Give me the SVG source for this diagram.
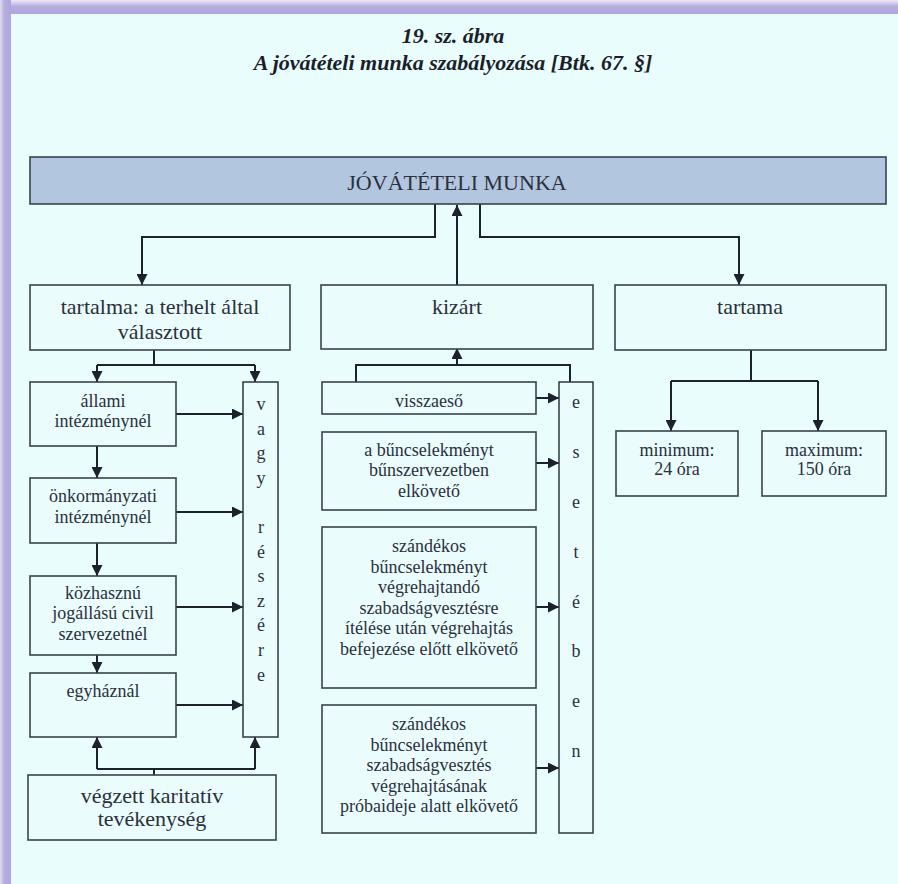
<svg xmlns="http://www.w3.org/2000/svg" width="898" height="884" viewBox="0 0 898 884">
<defs>
<linearGradient id="gTop" x1="0" y1="0" x2="0" y2="1">
<stop offset="0" stop-color="#ece9f6"/>
<stop offset="0.45" stop-color="#b6aee0"/>
<stop offset="1" stop-color="#afa6dc"/>
</linearGradient>
<linearGradient id="gLeft" x1="0" y1="0" x2="1" y2="0">
<stop offset="0" stop-color="#e2def2"/>
<stop offset="0.4" stop-color="#b6aee0"/>
<stop offset="1" stop-color="#afa6dc"/>
</linearGradient>
<marker id="ah" markerUnits="userSpaceOnUse" markerWidth="12" markerHeight="11" refX="11" refY="5.5" orient="auto">
<path d="M0,0 L11,5.5 L0,11 z" fill="#1c222c"/>
</marker>
<style>
.box{fill:#ebfcfc;stroke:#3a424c;stroke-width:1.6}
.hdr{fill:#b3c6e0;stroke:#3a424c;stroke-width:1.6}
.t{font-family:"Liberation Serif","Times New Roman",serif;fill:#2a303c;text-anchor:middle}
.t22{font-size:22px}
.t18{font-size:18px}
.ttl{font-family:"Liberation Serif","Times New Roman",serif;font-size:22px;font-style:italic;font-weight:bold;fill:#1c1f2a;text-anchor:middle}
.c{fill:none;stroke:#1c222c;stroke-width:2}
</style>
</defs>
<rect x="0" y="0" width="898" height="884" fill="#e9fdfd"/>
<rect x="0" y="0" width="898" height="14" fill="url(#gTop)"/>
<rect x="0" y="0" width="11" height="884" fill="url(#gLeft)"/>

<g id="title">
<text class="ttl" x="453" y="43">19. sz. ábra</text>
<text class="ttl" x="453" y="70">A jóvátételi munka szabályozása [Btk. 67. §]</text>
</g>

<g id="connectors">
<polyline class="c" points="435,204 435,237 142,237 142,285" marker-end="url(#ah)"/>
<polyline class="c" points="480,204 480,237 739,237 739,285" marker-end="url(#ah)"/>
<line class="c" x1="457" y1="285" x2="457" y2="205" marker-end="url(#ah)"/>
<line class="c" x1="154" y1="350" x2="154" y2="365"/>
<polyline class="c" points="97,365 255,365"/>
<line class="c" x1="97" y1="365" x2="97" y2="382" marker-end="url(#ah)"/>
<line class="c" x1="255" y1="365" x2="255" y2="382" marker-end="url(#ah)"/>
<line class="c" x1="176" y1="414" x2="243" y2="414" marker-end="url(#ah)"/>
<line class="c" x1="97" y1="446" x2="97" y2="478" marker-end="url(#ah)"/>
<line class="c" x1="176" y1="512" x2="243" y2="512" marker-end="url(#ah)"/>
<line class="c" x1="97" y1="543" x2="97" y2="576" marker-end="url(#ah)"/>
<line class="c" x1="176" y1="607" x2="243" y2="607" marker-end="url(#ah)"/>
<line class="c" x1="97" y1="655" x2="97" y2="673" marker-end="url(#ah)"/>
<line class="c" x1="176" y1="705" x2="243" y2="705" marker-end="url(#ah)"/>
<line class="c" x1="154" y1="775" x2="154" y2="769"/>
<polyline class="c" points="97,769 255,769"/>
<line class="c" x1="97" y1="769" x2="97" y2="737" marker-end="url(#ah)"/>
<line class="c" x1="255" y1="769" x2="255" y2="737" marker-end="url(#ah)"/>
<polyline class="c" points="356,382 356,365 570,365 570,382"/>
<line class="c" x1="457" y1="365" x2="457" y2="348" marker-end="url(#ah)"/>
<line class="c" x1="536" y1="398" x2="559" y2="398" marker-end="url(#ah)"/>
<line class="c" x1="536" y1="463" x2="559" y2="463" marker-end="url(#ah)"/>
<line class="c" x1="536" y1="607" x2="559" y2="607" marker-end="url(#ah)"/>
<line class="c" x1="536" y1="768" x2="559" y2="768" marker-end="url(#ah)"/>
<line class="c" x1="751" y1="350" x2="751" y2="381"/>
<polyline class="c" points="671,381 818,381"/>
<line class="c" x1="671" y1="381" x2="671" y2="431" marker-end="url(#ah)"/>
<line class="c" x1="818" y1="381" x2="818" y2="431" marker-end="url(#ah)"/>
</g>

<g id="n-jovateteli">
<rect class="hdr" x="30" y="157" width="856" height="47"/>
<text class="t t22" x="457" y="190">JÓVÁTÉTELI MUNKA</text>
</g>

<g id="n-tartalma">
<rect class="box" x="30" y="285" width="260" height="65"/>
<text class="t t22" x="160" y="314">tartalma: a terhelt által</text>
<text class="t t22" x="160" y="339">választott</text>
</g>

<g id="n-kizart">
<rect class="box" x="321" y="285" width="272" height="64"/>
<text class="t t22" x="457" y="314">kizárt</text>
</g>

<g id="n-tartama">
<rect class="box" x="615" y="285" width="271" height="65"/>
<text class="t t22" x="750" y="314">tartama</text>
</g>

<g id="n-allami">
<rect class="box" x="30" y="382" width="146" height="64"/>
<text class="t t18" x="103" y="407">állami</text>
<text class="t t18" x="103" y="427">intézménynél</text>
</g>

<g id="n-onkormanyzati">
<rect class="box" x="30" y="478" width="146" height="65"/>
<text class="t t18" x="103" y="502">önkormányzati</text>
<text class="t t18" x="103" y="523">intézménynél</text>
</g>

<g id="n-kozhasznu">
<rect class="box" x="30" y="576" width="146" height="79"/>
<text class="t t18" x="103" y="599">közhasznú</text>
<text class="t t18" x="103" y="619">jogállású civil</text>
<text class="t t18" x="103" y="640">szervezetnél</text>
</g>

<g id="n-egyhaznal">
<rect class="box" x="30" y="673" width="146" height="64"/>
<text class="t t18" x="103" y="697">egyháznál</text>
</g>

<g id="n-vagy">
<rect class="box" x="243" y="382" width="35" height="355"/>
<text class="t t18" x="261" y="410">v</text>
<text class="t t18" x="261" y="434.6">a</text>
<text class="t t18" x="261" y="459.2">g</text>
<text class="t t18" x="261" y="483.8">y</text>
<text class="t t18" x="261" y="533">r</text>
<text class="t t18" x="261" y="557.6">é</text>
<text class="t t18" x="261" y="582.2">s</text>
<text class="t t18" x="261" y="606.8">z</text>
<text class="t t18" x="261" y="631.4">é</text>
<text class="t t18" x="261" y="656">r</text>
<text class="t t18" x="261" y="680.6">e</text>
</g>

<g id="n-vegzett">
<rect class="box" x="28" y="775" width="248" height="65"/>
<text class="t t22" x="152" y="803">végzett karitatív</text>
<text class="t t22" x="152" y="826">tevékenység</text>
</g>

<g id="n-visszaeso">
<rect class="box" x="322" y="382" width="214" height="32"/>
<text class="t t18" x="429" y="407">visszaeső</text>
</g>

<g id="n-buncselekmeny">
<rect class="box" x="322" y="432" width="214" height="78"/>
<text class="t t18" x="429" y="456">a bűncselekményt</text>
<text class="t t18" x="429" y="476">bűnszervezetben</text>
<text class="t t18" x="429" y="497">elkövető</text>
</g>

<g id="n-szandekos1">
<rect class="box" x="322" y="527" width="214" height="161"/>
<text class="t t18" x="429" y="552">szándékos</text>
<text class="t t18" x="429" y="572.5">bűncselekményt</text>
<text class="t t18" x="429" y="593">végrehajtandó</text>
<text class="t t18" x="429" y="613.5">szabadságvesztésre</text>
<text class="t t18" x="429" y="634">ítélése után végrehajtás</text>
<text class="t t18" x="429" y="654.5">befejezése előtt elkövető</text>
</g>

<g id="n-szandekos2">
<rect class="box" x="322" y="705" width="214" height="128"/>
<text class="t t18" x="429" y="730">szándékos</text>
<text class="t t18" x="429" y="750.5">bűncselekményt</text>
<text class="t t18" x="429" y="771">szabadságvesztés</text>
<text class="t t18" x="429" y="791.5">végrehajtásának</text>
<text class="t t18" x="429" y="812">próbaideje alatt elkövető</text>
</g>

<g id="n-eseteben">
<rect class="box" x="559" y="382" width="34" height="451"/>
<text class="t t18" x="576" y="408">e</text>
<text class="t t18" x="576" y="458">s</text>
<text class="t t18" x="576" y="508">e</text>
<text class="t t18" x="576" y="558">t</text>
<text class="t t18" x="576" y="608">é</text>
<text class="t t18" x="576" y="657">b</text>
<text class="t t18" x="576" y="707">e</text>
<text class="t t18" x="576" y="757">n</text>
</g>

<g id="n-minimum">
<rect class="box" x="616" y="431" width="122" height="65"/>
<text class="t t18" x="677" y="456">minimum:</text>
<text class="t t18" x="677" y="475">24 óra</text>
</g>

<g id="n-maximum">
<rect class="box" x="762" y="431" width="124" height="65"/>
<text class="t t18" x="824" y="456">maximum:</text>
<text class="t t18" x="824" y="475">150 óra</text>
</g>
</svg>
